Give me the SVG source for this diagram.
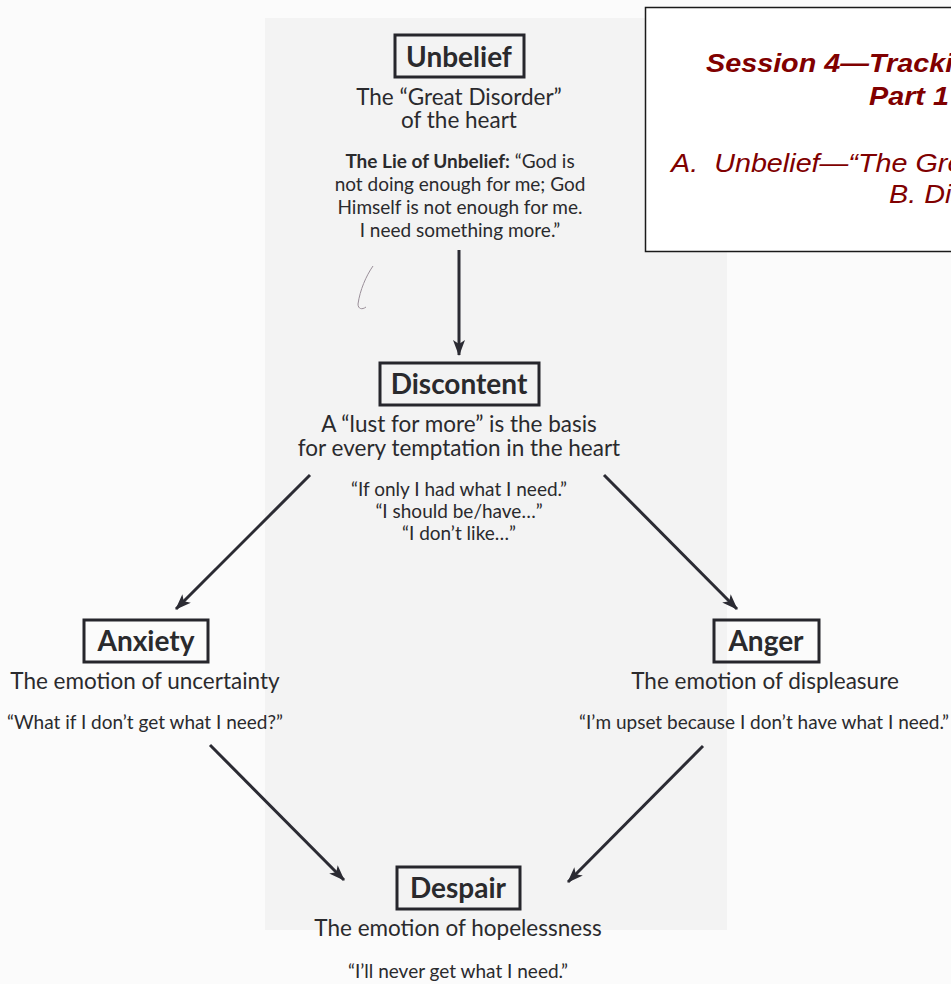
<svg xmlns="http://www.w3.org/2000/svg" width="951" height="984" viewBox="0 0 951 984">
<defs>
<marker id="ah" viewBox="0 0 16 12" refX="15" refY="6" markerWidth="16" markerHeight="12" markerUnits="userSpaceOnUse" orient="auto">
<path d="M0,0 L16,6 L0,12 L4,6 Z" fill="#2b2b33"/>
</marker>
<style>
.t{font-family:Lato,"Noto Sans",sans-serif;fill:#2a2a2d;text-anchor:middle}
.h{font-weight:bold;font-size:28px}
.s{font-size:22.5px}
.q{font-size:19px}
.box{fill:none;stroke:#26262c;stroke-width:3}
.ar{stroke:#2b2b33;stroke-width:3;fill:none;marker-end:url(#ah)}
.r{font-family:"Liberation Sans",Arial,sans-serif;fill:#800000;font-style:italic;font-size:25px}
</style>
</defs>
<rect x="0" y="0" width="951" height="984" fill="#fbfbfb"/>
<rect x="265" y="18" width="462" height="912" fill="#f3f3f3"/>
<path d="M373,266 C366,276 360,290 358,304 C358,309 362,310 366,307" fill="none" stroke="#9a8f99" stroke-width="1"/>

<g id="connectors">
<line class="ar" x1="459" y1="250" x2="459" y2="355"/>
<line class="ar" x1="310" y1="475" x2="176" y2="609"/>
<line class="ar" x1="604" y1="475" x2="737" y2="609"/>
<line class="ar" x1="210" y1="745" x2="344" y2="880"/>
<line class="ar" x1="703" y1="746" x2="568" y2="882"/>
</g>

<g id="unbelief">
<rect class="box" x="395" y="35" width="129" height="42"/>
<text class="t h" x="459" y="67">Unbelief</text>
<text class="t s" x="459" y="105">The “Great Disorder”</text>
<text class="t s" x="459" y="128">of the heart</text>
<text class="t q" x="460" y="168"><tspan font-weight="bold">The Lie of Unbelief:</tspan> “God is</text>
<text class="t q" x="460" y="191">not doing enough for me; God</text>
<text class="t q" x="460" y="214">Himself is not enough for me.</text>
<text class="t q" x="460" y="237">I need something more.”</text>
</g>

<g id="discontent">
<rect class="box" x="380" y="363" width="159" height="42"/>
<text class="t h" x="459" y="394">Discontent</text>
<text class="t s" x="459" y="432">A “lust for more” is the basis</text>
<text class="t s" x="459" y="456">for every temptation in the heart</text>
<text class="t q" x="459" y="496">“If only I had what I need.”</text>
<text class="t q" x="459" y="518">“I should be/have…”</text>
<text class="t q" x="459" y="540">“I don’t like…”</text>
</g>

<g id="anxiety">
<rect class="box" x="84" y="620" width="124" height="42"/>
<text class="t h" x="146" y="651">Anxiety</text>
<text class="t s" x="145" y="689">The emotion of uncertainty</text>
<text class="t q" x="145" y="729">“What if I don’t get what I need?”</text>
</g>

<g id="anger">
<rect class="box" x="714" y="620" width="105" height="42"/>
<text class="t h" x="766" y="651">Anger</text>
<text class="t s" x="765" y="689">The emotion of displeasure</text>
<text class="t q" x="764" y="729">“I’m upset because I don’t have what I need.”</text>
</g>

<g id="despair">
<rect class="box" x="397" y="867" width="123" height="42"/>
<text class="t h" x="458" y="898">Despair</text>
<text class="t s" x="458" y="936">The emotion of hopelessness</text>
<text class="t q" x="458" y="978">“I’ll never get what I need.”</text>
</g>

<g id="title">
<rect x="645.5" y="7.5" width="320" height="244" fill="#ffffff" stroke="#1a1a1a" stroke-width="1.5"/>
<text class="r" transform="translate(706,72) scale(1.15,1)" font-weight="bold">Session 4—Tracking</text>
<text class="r" transform="translate(869,105) scale(1.15,1)" font-weight="bold">Part 1</text>
<text class="r" transform="translate(671,172) scale(1.15,1)" xml:space="preserve">A.  Unbelief—“The Great</text>
<text class="r" transform="translate(889,203) scale(1.15,1)">B. Discontent</text>
</g>
</svg>
